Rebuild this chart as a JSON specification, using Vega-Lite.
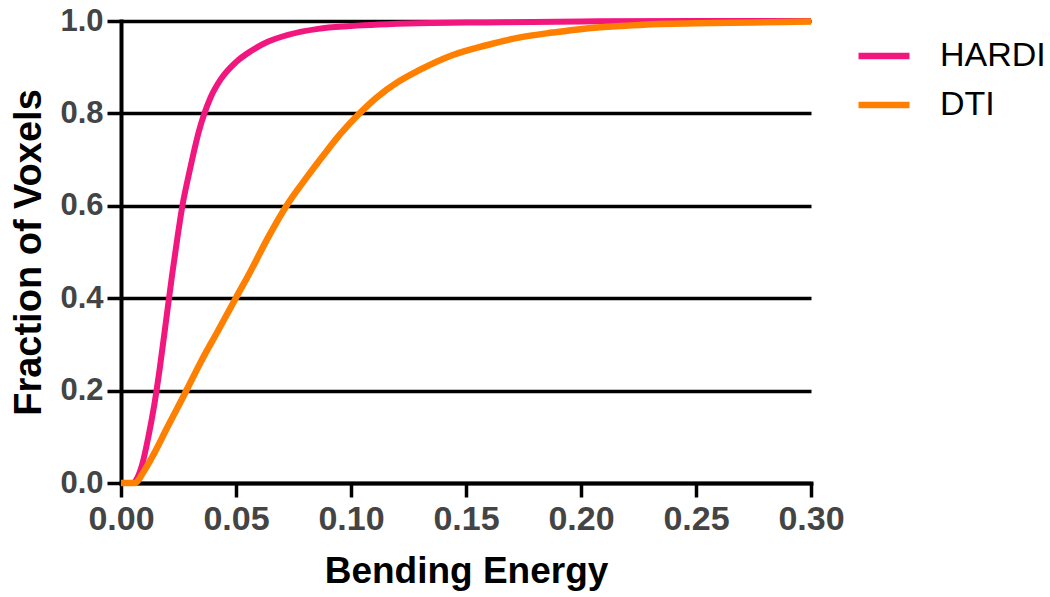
{
  "$schema": "https://vega.github.io/schema/vega-lite/v6.json",
  "autosize": "none",
  "width": 690,
  "height": 462,
  "padding": {"left": 121, "top": 21, "right": 239, "bottom": 114},
  "background": "white",
  "config": {"view": {"stroke": null}},
  "data": {"values": [
    {"series": "HARDI", "be": 0, "frac": 0},
    {"series": "HARDI", "be": 0.005, "frac": 0},
    {"series": "HARDI", "be": 0.0092, "frac": 0.04},
    {"series": "HARDI", "be": 0.0119, "frac": 0.1},
    {"series": "HARDI", "be": 0.0145, "frac": 0.17},
    {"series": "HARDI", "be": 0.0169, "frac": 0.25},
    {"series": "HARDI", "be": 0.0194, "frac": 0.344},
    {"series": "HARDI", "be": 0.0223, "frac": 0.453},
    {"series": "HARDI", "be": 0.0245, "frac": 0.53},
    {"series": "HARDI", "be": 0.0267, "frac": 0.6},
    {"series": "HARDI", "be": 0.0296, "frac": 0.67},
    {"series": "HARDI", "be": 0.0339, "frac": 0.762},
    {"series": "HARDI", "be": 0.039, "frac": 0.835},
    {"series": "HARDI", "be": 0.0434, "frac": 0.874},
    {"series": "HARDI", "be": 0.05, "frac": 0.911},
    {"series": "HARDI", "be": 0.0565, "frac": 0.935},
    {"series": "HARDI", "be": 0.0638, "frac": 0.955},
    {"series": "HARDI", "be": 0.0726, "frac": 0.97},
    {"series": "HARDI", "be": 0.0857, "frac": 0.983},
    {"series": "HARDI", "be": 0.1, "frac": 0.989},
    {"series": "HARDI", "be": 0.129, "frac": 0.995},
    {"series": "HARDI", "be": 0.159, "frac": 0.997},
    {"series": "HARDI", "be": 0.2, "frac": 0.999},
    {"series": "HARDI", "be": 0.25, "frac": 1.0},
    {"series": "HARDI", "be": 0.3, "frac": 1.0},
    {"series": "DTI", "be": 0, "frac": 0},
    {"series": "DTI", "be": 0.006, "frac": 0},
    {"series": "DTI", "be": 0.0099, "frac": 0.025},
    {"series": "DTI", "be": 0.0143, "frac": 0.063},
    {"series": "DTI", "be": 0.0201, "frac": 0.12},
    {"series": "DTI", "be": 0.0274, "frac": 0.19},
    {"series": "DTI", "be": 0.0347, "frac": 0.262},
    {"series": "DTI", "be": 0.042, "frac": 0.328},
    {"series": "DTI", "be": 0.05, "frac": 0.401},
    {"series": "DTI", "be": 0.0565, "frac": 0.46},
    {"series": "DTI", "be": 0.0638, "frac": 0.53},
    {"series": "DTI", "be": 0.0726, "frac": 0.605},
    {"series": "DTI", "be": 0.0808, "frac": 0.662},
    {"series": "DTI", "be": 0.0881, "frac": 0.71},
    {"series": "DTI", "be": 0.0953, "frac": 0.755},
    {"series": "DTI", "be": 0.1033, "frac": 0.798},
    {"series": "DTI", "be": 0.1113, "frac": 0.835},
    {"series": "DTI", "be": 0.1207, "frac": 0.869},
    {"series": "DTI", "be": 0.1294, "frac": 0.893},
    {"series": "DTI", "be": 0.144, "frac": 0.926},
    {"series": "DTI", "be": 0.1585, "frac": 0.947},
    {"series": "DTI", "be": 0.173, "frac": 0.964},
    {"series": "DTI", "be": 0.1877, "frac": 0.975},
    {"series": "DTI", "be": 0.2023, "frac": 0.984},
    {"series": "DTI", "be": 0.2169, "frac": 0.989},
    {"series": "DTI", "be": 0.2314, "frac": 0.993},
    {"series": "DTI", "be": 0.25, "frac": 0.995},
    {"series": "DTI", "be": 0.275, "frac": 0.997},
    {"series": "DTI", "be": 0.3, "frac": 0.999}
  ]},
  "encoding": {
    "x": {
      "field": "be", "type": "quantitative",
      "scale": {"domain": [0, 0.3], "nice": false, "zero": false},
      "axis": {
        "title": "Bending Energy",
        "values": [0, 0.05, 0.1, 0.15, 0.2, 0.25, 0.3],
        "format": ".2f",
        "grid": false,
        "labelFlush": false, "labelOverlap": false, "labelBound": false,
        "domainColor": "black", "domainWidth": 4, "domainCap": "square",
        "tickColor": "black", "tickWidth": 3.5, "tickSize": 14,
        "labelFont": "Liberation Sans Narrow, Arial Narrow, Liberation Sans, Arial",
        "labelFontWeight": "bold", "labelFontSize": 34, "labelColor": "#444444",
        "labelPadding": 5,
        "titleFont": "Liberation Sans, Arial", "titleFontWeight": "bold", "titleFontSize": 37, "titleColor": "black",
        "titleX": 345, "titleY": 88, "titleBaseline": "middle", "titleAlign": "center"
      }
    },
    "y": {
      "field": "frac", "type": "quantitative",
      "scale": {"domain": [0, 1], "nice": false},
      "axis": {
        "title": "Fraction of Voxels",
        "values": [0, 0.2, 0.4, 0.6, 0.8, 1.0],
        "format": ".1f",
        "grid": true, "gridColor": "black", "gridWidth": 3.5, "gridOpacity": 1,
        "domainColor": "black", "domainWidth": 4, "domainCap": "square",
        "tickColor": "black", "tickWidth": 3.5, "tickSize": 14,
        "labelFont": "Liberation Sans, Arial",
        "labelFontWeight": "bold", "labelFontSize": 31, "labelColor": "#444444",
        "labelPadding": 4,
        "titleFont": "Liberation Sans, Arial", "titleFontWeight": "bold", "titleFontSize": 38, "titleColor": "black",
        "titleX": -92, "titleY": 231, "titleBaseline": "middle", "titleAlign": "center", "titleAngle": -90
      }
    },
    "color": {
      "field": "series", "type": "nominal",
      "scale": {"domain": ["HARDI", "DTI"], "range": ["#F2167F", "#FF8000"]},
      "legend": {
        "title": null,
        "orient": "none", "legendX": 734, "legendY": 6,
        "symbolType": "stroke", "symbolSize": 2601, "symbolStrokeWidth": 6.5,
        "labelFont": "Liberation Sans, Arial", "labelFontSize": 34, "labelColor": "black",
        "labelOffset": 27, "rowPadding": 3, "padding": 0
      }
    }
  },
  "layer": [
    {"transform": [{"filter": "datum.series === 'HARDI'"}], "mark": {"type": "line", "strokeWidth": 6, "interpolate": "monotone", "clip": false}},
    {"transform": [{"filter": "datum.series === 'DTI'"}], "mark": {"type": "line", "strokeWidth": 6.5, "interpolate": "monotone", "clip": false}}
  ]
}
